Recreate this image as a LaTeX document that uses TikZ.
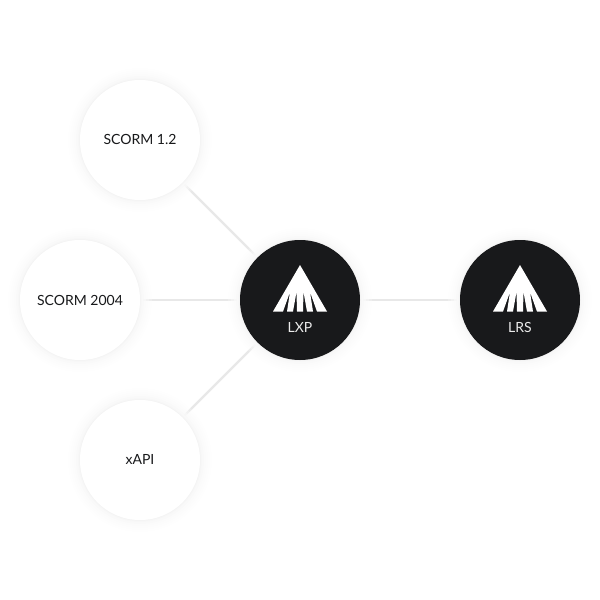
\documentclass[tikz,border=0pt]{standalone}
\usepackage{fontspec}
\setmainfont{Lato}
\definecolor{ink}{HTML}{18191B}
\tikzset{x=0.5pt,y=-0.5pt,
 lightnode/.style={circle,minimum size=60pt,inner sep=0pt,fill=white,text=ink,font=\fontsize{7}{8}\selectfont},
 darknode/.style={circle,minimum size=60pt,inner sep=0pt,fill=ink},
 caption/.style={text=white!92!black,font=\fontsize{7}{8}\selectfont,inner sep=0pt},
 wireline/.style={line width=1pt}}
\newcommand{\halo}[1]{\foreach \r/\o in {72/0.0025,70/0.003,68/0.004,66/0.005,64/0.006,62/0.008,61/0.012}{\fill[black,opacity=\o] #1 circle[radius=\r];}}
\newcommand{\wire}[2]{%
 \draw[wireline,draw=black!3,shorten >=1.5pt,shorten <=1.5pt] (#1) -- (#2);
 \draw[wireline,draw=black!5,shorten >=3pt,shorten <=3pt] (#1) -- (#2);
 \draw[wireline,draw=black!7,shorten >=4.5pt,shorten <=4.5pt] (#1) -- (#2);
 \draw[wireline,draw=black!9,shorten >=6pt,shorten <=6pt] (#1) -- (#2);}
\newcommand{\logomark}[2]{\begin{scope}[shift={(#1,#2)}]
\fill[white] (0,-35) -- (27,11.5) -- (17,11.5) -- (10,-8) -- (13,11.5) -- (7,11.5) -- (3.5,-8) -- (3,11.5) -- (-3,11.5) -- (-3.5,-8) -- (-7,11.5) -- (-13,11.5) -- (-10,-8) -- (-17,11.5) -- (-27,11.5) -- cycle;
\end{scope}}
\begin{document}
\begin{tikzpicture}
\useasboundingbox (0,0) rectangle (600,600);
\fill[white] (0,0) rectangle (600,600);
\halo{(140,140)}\halo{(80,300)}\halo{(140,460)}\halo{(300,300)}\halo{(520,300)}
\node[lightnode] (a) at (140,140) {\raisebox{0.5pt}{SCORM 1.2}};
\node[lightnode] (b) at (80,300) {SCORM 2004};
\node[lightnode] (c) at (140,460) {\raisebox{0.5pt}{xAPI}};
\node[darknode] (l) at (300,300) {};
\node[darknode] (r) at (520,300) {};
\wire{a}{l}
\wire{b}{l}
\wire{c}{l}
\wire{l}{r}
\logomark{300}{300}\logomark{520}{300}
\node[caption] (lt) at (300,327) {LXP};
\node[caption] (rt) at (520,327) {LRS};
\end{tikzpicture}
\end{document}
